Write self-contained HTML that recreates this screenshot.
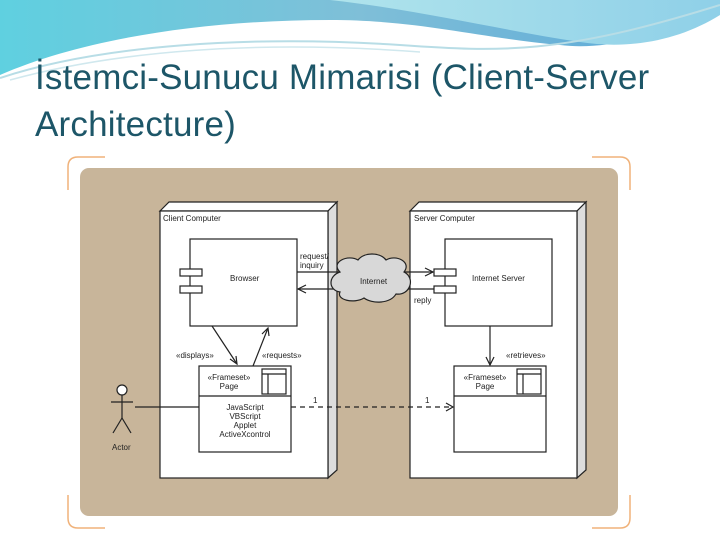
<!DOCTYPE html>
<html><head><meta charset="utf-8"><style>
body{margin:0;width:720px;height:540px;overflow:hidden;background:#fff;font-family:"Liberation Sans",sans-serif}
.t{position:absolute;left:35px;color:#1d5668;font-size:35px;line-height:47px;top:54px;letter-spacing:0.2px;white-space:nowrap}
</style></head><body>
<svg width="720" height="540" style="position:absolute;left:0;top:0">
<defs>
<linearGradient id="g1" x1="0" x2="1"><stop offset="0" stop-color="#5fd0e0"/><stop offset="0.5" stop-color="#7fbfd8"/><stop offset="1" stop-color="#5aa8d8"/></linearGradient>
<linearGradient id="g2" x1="0" x2="1"><stop offset="0" stop-color="#b0e4ec"/><stop offset="1" stop-color="#8fd0e8"/></linearGradient>
</defs>
<path d="M0 0H720V10C650 40 600 50 560 45C480 38 420 20 330 20C200 20 80 40 0 75Z" fill="url(#g1)"/>
<path d="M330 0H720V15C680 40 630 50 580 42C500 30 420 10 330 0Z" fill="url(#g2)"/>
<path d="M0 78C100 45 250 35 400 45C500 52 560 55 720 5" stroke="#b8dde6" stroke-width="2" fill="none"/>
<path d="M10 80C120 50 260 40 420 52" stroke="#d0e8ee" stroke-width="1.5" fill="none"/>
<path d="M105 157H78Q68 157 68 167V190M68 495V518Q68 528 78 528H105M592 157H620Q630 157 630 167V190M630 495V518Q630 528 620 528H592" stroke="#f0b27a" stroke-width="1.5" fill="none"/>
<rect x="80" y="168" width="538" height="348" rx="9" fill="#c8b59a"/>
<g stroke="#222" stroke-width="1.2" fill="#fff">
<path d="M160 211L169 202H337L328 211Z" fill="#fff"/>
<path d="M328 211L337 202V470L328 478Z" fill="#ddd"/>
<rect x="160" y="211" width="168" height="267"/>
<path d="M410 211L419 202H586L577 211Z" fill="#fff"/>
<path d="M577 211L586 202V470L577 478Z" fill="#ddd"/>
<rect x="410" y="211" width="167" height="267"/>
<rect x="190" y="239" width="107" height="87"/>
<rect x="180" y="269" width="22" height="7"/><rect x="180" y="286" width="22" height="7"/>
<rect x="445" y="239" width="107" height="87"/>
<rect x="434" y="269" width="22" height="7"/><rect x="434" y="286" width="22" height="7"/>
<rect x="199" y="366" width="92" height="86"/><line x1="199" y1="396" x2="291" y2="396"/>
<rect x="262" y="369" width="24" height="25"/><line x1="262" y1="374" x2="286" y2="374"/><line x1="268" y1="374" x2="268" y2="394"/>
<rect x="454" y="366" width="92" height="86"/><line x1="454" y1="396" x2="546" y2="396"/>
<rect x="517" y="369" width="24" height="25"/><line x1="517" y1="374" x2="541" y2="374"/><line x1="523" y1="374" x2="523" y2="394"/>
<line x1="297" y1="272" x2="433" y2="272"/><path d="M425 268L433 272L425 276" fill="none"/>
<line x1="434" y1="289" x2="298" y2="289"/><path d="M306 285L298 289L306 293" fill="none"/>
<line x1="490" y1="326" x2="490" y2="365"/><path d="M486 357L490 365L494 357" fill="none"/>
<line x1="212" y1="326" x2="237" y2="364"/><path d="M230 359L237 364L236 356" fill="none"/>
<line x1="253" y1="366" x2="268" y2="328"/><path d="M262 334L268 328L269 336" fill="none"/>
<line x1="291" y1="407" x2="453" y2="407" stroke-dasharray="5,4"/><path d="M446 403L453 407L446 411" fill="none"/>
<line x1="135" y1="407" x2="199" y2="407"/>
<path d="M340 272C330 262 348 254 358 260C364 252 380 252 386 260C396 254 412 262 404 272C416 278 410 296 396 294C390 304 372 304 364 298C354 304 336 300 340 292C328 290 328 276 340 272Z" fill="#d8d8d8"/>
<circle cx="122" cy="390" r="5"/>
<line x1="122" y1="395" x2="122" y2="418" fill="none"/><line x1="111" y1="402" x2="133" y2="402"/>
<path d="M113 433L122 418L131 433" fill="none"/>
</g>
<g font-size="8" fill="#222" font-family="Liberation Sans,sans-serif">
<text x="163" y="221">Client Computer</text>
<text x="414" y="221">Server Computer</text>
<text x="230" y="281">Browser</text>
<text x="472" y="281">Internet Server</text>
<text x="360" y="284">Internet</text>
<text x="300" y="259">request/</text><text x="300" y="268">inquiry</text>
<text x="414" y="303">reply</text>
<text x="176" y="358">«displays»</text>
<text x="262" y="358">«requests»</text>
<text x="506" y="358">«retrieves»</text>
<text x="229" y="380" text-anchor="middle">«Frameset»</text><text x="229" y="389" text-anchor="middle">Page</text>
<text x="485" y="380" text-anchor="middle">«Frameset»</text><text x="485" y="389" text-anchor="middle">Page</text>
<text x="245" y="410" text-anchor="middle">JavaScript</text>
<text x="245" y="419" text-anchor="middle">VBScript</text>
<text x="245" y="428" text-anchor="middle">Applet</text>
<text x="245" y="437" text-anchor="middle">ActiveXcontrol</text>
<text x="313" y="403">1</text><text x="425" y="403">1</text>
<text x="112" y="450">Actor</text>
</g>
</svg>
<div class="t">İstemci-Sunucu Mimarisi (Client-Server<br>Architecture)</div>
</body></html>
